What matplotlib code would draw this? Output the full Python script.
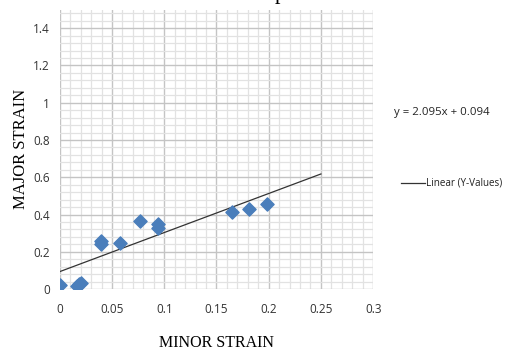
import matplotlib
matplotlib.use('Agg')
import matplotlib.pyplot as plt
import numpy as np
from matplotlib.ticker import MultipleLocator

# data
minor_strain = [0.0, 0.016, 0.018, 0.020, 0.039, 0.039, 0.058, 0.077, 0.094, 0.094, 0.165, 0.181, 0.198]
major_strain = [0.02, 0.015, 0.025, 0.035, 0.24, 0.26, 0.245, 0.365, 0.33, 0.35, 0.415, 0.43, 0.455]
slope = 2.095
intercept = 0.094
fit_x = [0.0, 0.25]

fig = plt.figure(figsize=(5.07, 3.53), dpi=100)
ax = fig.add_axes([0.118, 0.181, 0.618, 0.792])

ax.set_xlim(0, 0.3)
ax.set_ylim(0, 1.5)
ax.xaxis.set_major_locator(MultipleLocator(0.05))
ax.xaxis.set_minor_locator(MultipleLocator(0.01))
ax.yaxis.set_major_locator(MultipleLocator(0.2))
ax.yaxis.set_minor_locator(MultipleLocator(0.04))
ax.grid(which='major', color='#c4c4c4', linewidth=1.0)
ax.grid(which='minor', color='#e2e2e2', linewidth=0.9)
ax.set_axisbelow(True)
for s in ax.spines.values():
    s.set_visible(False)
ax.tick_params(which='both', length=0)
ax.tick_params(axis='x', pad=10)
ax.tick_params(axis='y', pad=7)

tick_font = 'Open Sans'
ax.set_xticks([0, 0.05, 0.1, 0.15, 0.2, 0.25, 0.3])
ax.set_xticklabels(['0', '0.05', '0.1', '0.15', '0.2', '0.25', '0.3'])
ax.set_yticks([0, 0.2, 0.4, 0.6, 0.8, 1.0, 1.2, 1.4])
ax.set_yticklabels(['0', '0.2', '0.4', '0.6', '0.8', '1', '1.2', '1.4'])
for lbl in ax.get_xticklabels() + ax.get_yticklabels():
    lbl.set_fontfamily(tick_font)
    lbl.set_fontsize(8.5)
    lbl.set_color('#333333')

ax.scatter(minor_strain, major_strain, marker='D', s=45, color='#4a7ebb', zorder=3)
fx = np.array(fit_x)
ax.plot(fx, slope * fx + intercept, color='#333333', linewidth=0.9, zorder=2)

ax.set_xlabel('MINOR STRAIN', family='Liberation Serif', fontsize=11.5, labelpad=14)
ax.set_ylabel('MAJOR STRAIN', family='Liberation Serif', fontsize=12, labelpad=3)

# trendline equation and legend
fig.text(0.778, 0.68, 'y = %.3fx + %.3f' % (slope, intercept), family=tick_font,
         fontsize=8.2, color='#222222', va='center')
fig.lines.append(plt.Line2D([0.79, 0.838], [0.482, 0.482], transform=fig.transFigure,
                            color='#333333', linewidth=0.9))
fig.text(0.841, 0.482, 'Linear (Y-Values)', family=tick_font, fontsize=7.1,
         color='#222222', va='center')

# clipped title at the top edge
fig.text(0.553, 1.015, 'p', family='Liberation Serif', fontsize=16, va='center', ha='center')

fig.savefig('out.png', dpi=100)
